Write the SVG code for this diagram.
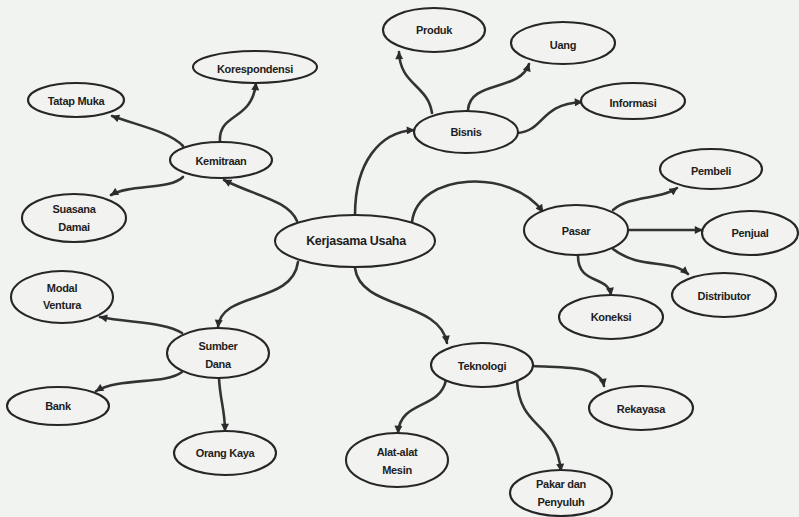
<svg xmlns="http://www.w3.org/2000/svg" width="799" height="517" viewBox="0 0 799 517">
  <defs>
    <marker id="arrow" viewBox="0 0 10 10" refX="9" refY="5" markerWidth="9" markerHeight="8" markerUnits="userSpaceOnUse" orient="auto">
      <path d="M0,0 L10,5 L0,10 Z" fill="#2b2b2b"/>
    </marker>
    <style>
      .node ellipse { fill: #f2f3f1; stroke: #262626; stroke-width: 2.1; }
      .node text { font-family: "Liberation Sans", Arial, sans-serif; font-size: 11px; font-weight: bold; letter-spacing: -0.3px; fill: #1e1e1e; text-anchor: middle; dominant-baseline: central; }
      #kerjasama text { font-size: 12.5px; }
      #connectors path { fill: none; stroke: #333; stroke-width: 2.6; marker-end: url(#arrow); stroke-linecap: round; }
    </style>
  </defs>

  <rect width="799" height="517" fill="#f1f3f1"/>

  <g id="connectors">
    <!-- Kerjasama Usaha branches -->
    <path d="M297,221 C288,200 255,196 224,180"/>
    <path d="M355,215 C355,162 380,132 414,130"/>
    <path d="M412,222 C418,172 512,168 543,212"/>
    <path d="M355,268 C360,310 440,300 447,343"/>
    <path d="M298,262 C292,305 222,290 218,327"/>
    <!-- Kemitraan -->
    <path d="M183,146 C170,132 140,126 112,116"/>
    <path d="M220,142 C218,112 252,122 256,83"/>
    <path d="M183,177 C170,190 130,184 111,195"/>
    <!-- Bisnis -->
    <path d="M432,113 C428,85 400,85 399,52"/>
    <path d="M468,110 C470,80 520,92 529,64"/>
    <path d="M518,133 C545,130 540,104 582,102"/>
    <!-- Pasar -->
    <path d="M613,210 C630,195 660,200 677,188"/>
    <path d="M628,230 L702,230"/>
    <path d="M613,249 C640,270 670,258 688,274"/>
    <path d="M578,256 C578,285 608,275 611,295"/>
    <!-- Teknologi -->
    <path d="M446,380 C440,410 400,400 398,433"/>
    <path d="M533,366 C565,368 600,365 604,386"/>
    <path d="M517,381 C520,430 555,420 561,471"/>
    <!-- Sumber Dana -->
    <path d="M182,333 C165,322 130,323 100,317"/>
    <path d="M182,372 C165,385 120,377 96,391"/>
    <path d="M219,378 C220,400 225,410 225,431"/>
  </g>

  <g id="kerjasama" class="node"><ellipse cx="355" cy="241" rx="80" ry="26"/><text x="356" y="241">Kerjasama Usaha</text></g>

  <g id="kemitraan" class="node"><ellipse cx="221" cy="160" rx="51" ry="18"/><text x="221" y="161">Kemitraan</text></g>
  <g id="tatap-muka" class="node"><ellipse cx="76" cy="100" rx="48" ry="17"/><text x="76" y="101">Tatap Muka</text></g>
  <g id="korespondensi" class="node"><ellipse cx="255" cy="67" rx="62" ry="16"/><text x="255" y="69">Korespondensi</text></g>
  <g id="suasana-damai" class="node"><ellipse cx="74" cy="218" rx="52" ry="24"/><text x="74" y="209">Suasana</text><text x="74" y="227">Damai</text></g>

  <g id="bisnis" class="node"><ellipse cx="466" cy="132" rx="52" ry="21"/><text x="466" y="132">Bisnis</text></g>
  <g id="produk" class="node"><ellipse cx="434" cy="30" rx="51" ry="22"/><text x="434" y="30">Produk</text></g>
  <g id="uang" class="node"><ellipse cx="563" cy="43" rx="52" ry="21"/><text x="563" y="45">Uang</text></g>
  <g id="informasi" class="node"><ellipse cx="633" cy="101" rx="52" ry="18"/><text x="633" y="103">Informasi</text></g>

  <g id="pasar" class="node"><ellipse cx="576" cy="230" rx="52" ry="25"/><text x="576" y="231">Pasar</text></g>
  <g id="pembeli" class="node"><ellipse cx="711" cy="169" rx="51" ry="20"/><text x="711" y="171">Pembeli</text></g>
  <g id="penjual" class="node"><ellipse cx="750" cy="233" rx="48" ry="22"/><text x="750" y="233">Penjual</text></g>
  <g id="distributor" class="node"><ellipse cx="724" cy="295" rx="52" ry="22"/><text x="724" y="296">Distributor</text></g>
  <g id="koneksi" class="node"><ellipse cx="611" cy="317" rx="52" ry="22"/><text x="611" y="317">Koneksi</text></g>

  <g id="teknologi" class="node"><ellipse cx="482" cy="365" rx="51" ry="22"/><text x="482" y="366">Teknologi</text></g>
  <g id="rekayasa" class="node"><ellipse cx="641" cy="408" rx="52" ry="22"/><text x="641" y="409">Rekayasa</text></g>
  <g id="pakar-penyuluh" class="node"><ellipse cx="561" cy="493" rx="51" ry="23"/><text x="561" y="484">Pakar dan</text><text x="561" y="502">Penyuluh</text></g>
  <g id="alat-mesin" class="node"><ellipse cx="397" cy="460" rx="51" ry="27"/><text x="397" y="452">Alat-alat</text><text x="397" y="470">Mesin</text></g>

  <g id="sumber-dana" class="node"><ellipse cx="218" cy="353" rx="51" ry="25"/><text x="218" y="346">Sumber</text><text x="218" y="364">Dana</text></g>
  <g id="modal-ventura" class="node"><ellipse cx="62" cy="297" rx="51" ry="26"/><text x="62" y="288">Modal</text><text x="62" y="305">Ventura</text></g>
  <g id="bank" class="node"><ellipse cx="58" cy="406" rx="51" ry="19"/><text x="58" y="406">Bank</text></g>
  <g id="orang-kaya" class="node"><ellipse cx="225" cy="453" rx="51" ry="22"/><text x="225" y="453">Orang Kaya</text></g>
</svg>
